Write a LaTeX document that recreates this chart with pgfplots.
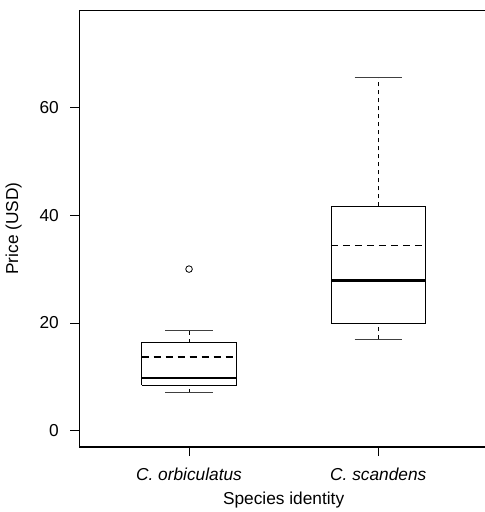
\documentclass[border=0pt]{standalone}
\usepackage{pgfplots}
\pgfplotsset{compat=1.18}
\usepackage{fontspec}
\setmainfont{Liberation Sans}

% box statistics
% C. orbiculatus: whiskers 7.05 / 18.68, quartiles 8.48 / 16.33, median 9.78, mean 13.73, outlier 30
% C. scandens:    whiskers 17.0 / 65.55, quartiles 19.98 / 41.62, median 27.83, mean 34.38

\begin{document}
\begin{tikzpicture}
% page = 485 x 512 px; the axis frame runs past the right edge as in the source
\path[use as bounding box] (-79.3pt,-65pt) rectangle (405.4pt,447pt);
\begin{axis}[
    at={(0pt,0pt)}, anchor=south west,
    scale only axis,
    width=408.7pt, height=436.7pt,
    xmin=0.42, xmax=2.58,
    ymin=-3, ymax=78,
    axis line style={line width=1.1pt},
    xtick={1,2},
    xticklabels={\textit{C. orbiculatus}, \textit{C. scandens}},
    ytick={0,20,40,60},
    xtick pos=bottom, ytick pos=left,
    tick align=outside,
    major tick length=9pt,
    tick style={black, line width=0.8pt},
    /pgf/number format/assume math mode=true,
    tick label style={font=\fontsize{17.3}{20}\selectfont},
    label style={font=\fontsize{17.3}{20}\selectfont},
    xticklabel style={yshift=-8pt},
    yticklabel style={xshift=-8pt},
    xlabel={Species identity},
    ylabel={Price (USD)},
    xlabel style={yshift=-5pt},
    ylabel style={yshift=11pt},
    whisk/.style={black, line width=0.8pt, dash pattern=on 4pt off 4pt},
    cap/.style={black!75, line width=0.8pt},
    box/.style={black, line width=0.9pt},
    med/.style={black, line width=2.6pt},
    avg/.style={black, line width=1.8pt, dash pattern=on 7pt off 5pt},
]
  % ---- C. orbiculatus ----
  \addplot[whisk] coordinates {(1,7.05) (1,8.48)};
  \addplot[whisk] coordinates {(1,16.33) (1,18.68)};
  \addplot[cap] coordinates {(0.875,7.05) (1.125,7.05)};
  \addplot[cap] coordinates {(0.875,18.68) (1.125,18.68)};
  \addplot[box] coordinates {(0.75,8.48) (1.25,8.48) (1.25,16.33) (0.75,16.33) (0.75,8.48)};
  \addplot[med] coordinates {(0.75,9.78) (1.25,9.78)};
  \addplot[avg] coordinates {(0.75,13.73) (1.25,13.73)};
  \addplot[only marks, mark=o, mark size=3.3pt, mark options={black, line width=0.8pt}]
    coordinates {(1,30.0)};
  % ---- C. scandens ----
  \addplot[whisk] coordinates {(2,17.0) (2,19.98)};
  \addplot[whisk] coordinates {(2,41.62) (2,65.55)};
  \addplot[cap] coordinates {(1.875,17.0) (2.125,17.0)};
  \addplot[cap] coordinates {(1.875,65.55) (2.125,65.55)};
  \addplot[box] coordinates {(1.75,19.98) (2.25,19.98) (2.25,41.62) (1.75,41.62) (1.75,19.98)};
  \addplot[med] coordinates {(1.75,27.83) (2.25,27.83)};
  \addplot[avg] coordinates {(1.75,34.38) (2.25,34.38)};
\end{axis}
\end{tikzpicture}
\end{document}
